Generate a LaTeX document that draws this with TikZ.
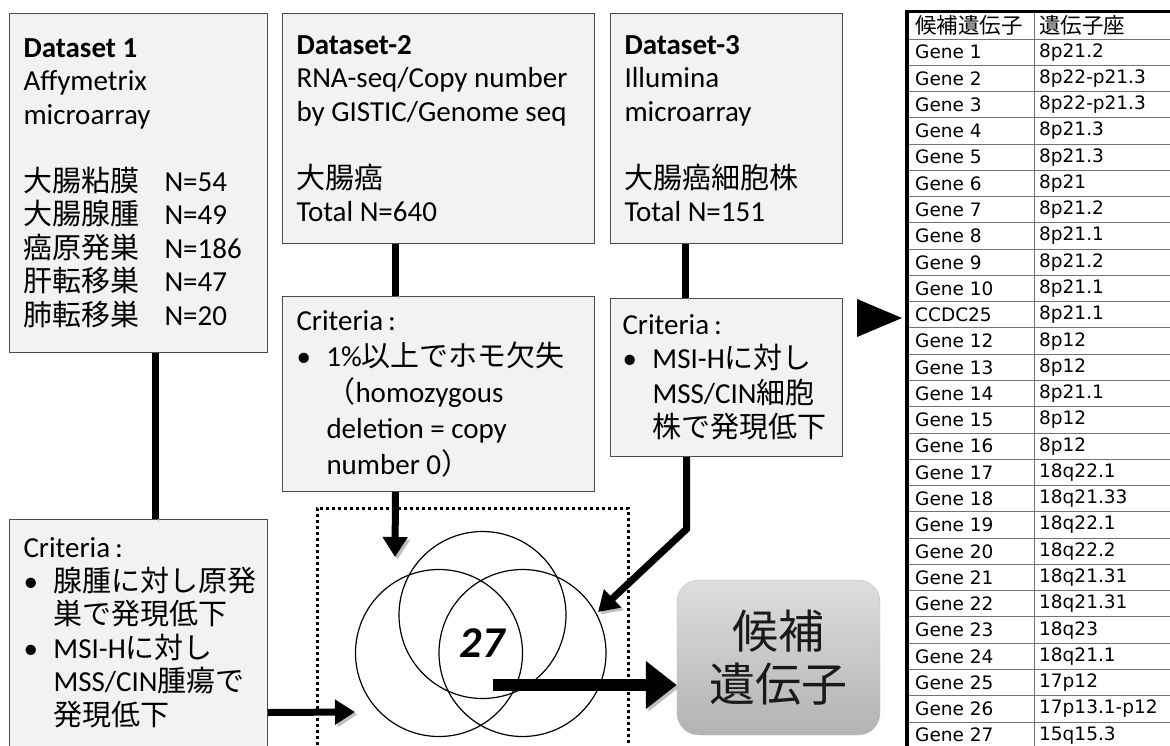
\documentclass[tikz,border=0pt]{standalone}
\usepackage{fontspec}
\setmainfont{Carlito}
\newfontfamily\jpfont{Noto Sans CJK JP}
\newfontfamily\cellfont{DejaVu Sans}
\usetikzlibrary{arrows.meta}
\newcommand\jp[1]{{\jpfont #1}}
\newcommand\bul{\makebox[30pt][l]{\textbullet}}
\newcommand\ind{\hspace*{30pt}}
\newcommand\kind[1]{\makebox[141pt][l]{\jp{#1}}}
\def\rowh{26.27}
\def\tabtop{39}

\begin{document}
\begin{tikzpicture}[x=1pt, y=-1pt,
    box/.style={draw=black!70, fill=black!5, line width=1pt, anchor=north west,
        align=left, inner xsep=14pt, inner ysep=0pt,
        font=\fontsize{29}{33.5}\selectfont,
        execute at begin node={\spaceskip=0pt\xspaceskip=0pt\relax}},
    shadowed/.style={preaction={draw=black!25, transform canvas={shift={(2.5pt,-2.5pt)}}}},
    link/.style={line width=7pt, shadowed},
    flow/.style={link, -{Triangle[length=20pt, width=24pt]}},
    bigflow/.style={line width=12pt, shadowed, -{Triangle[length=31pt, width=46pt]}},
    setring/.style={draw, circle, line width=1.2pt, minimum size=167pt, inner sep=0pt},
    cell/.style={anchor=west, inner sep=0pt, font=\cellfont\fontsize{18.5}{18.5}\selectfont},
    rule/.style={draw=black!55, line width=1pt}]
    \useasboundingbox (0,0) rectangle (1170,745);
    \clip (0,0) rectangle (1170,745);
    \fill[white] (0,0) rectangle (1170,745);

    \node[box, minimum width=258pt, minimum height=339pt, text width=230pt] (d1) at (9,13)
        {\textbf{Dataset 1}\\ Affymetrix\\ microarray\\[33.5pt]
         \kind{大腸粘膜}N=54\\ \kind{大腸腺腫}N=49\\ \kind{癌原発巣}N=186\\
         \kind{肝転移巣}N=47\\ \kind{肺転移巣}N=20};
    \node[box, minimum width=312pt, minimum height=230pt, text width=284pt] (d2) at (282,13)
        {\textbf{Dataset-2}\\ RNA-seq/Copy number\\ by GISTIC/Genome seq\\[33.5pt]
         \jp{大腸癌}\\ Total N=640};
    \node[box, minimum width=232pt, minimum height=230pt, text width=204pt] (d3) at (610,13)
        {\textbf{Dataset-3}\\ Illumina\\ microarray\\[33.5pt]
         \jp{大腸癌細胞株}\\ Total N=151};

    \node[box, minimum width=258pt, minimum height=227pt, text width=230pt] (c1) at (9,519)
        {Criteria\,:\\ \bul\jp{腺腫に対し原発}\\ \ind\jp{巣で発現低下}\\
         \bul MSI-H\jp{に対し}\\ \ind MSS/CIN\jp{腫瘍で}\\ \ind\jp{発現低下}};
    \node[box, minimum width=312pt, minimum height=195pt, text width=284pt,
        font=\fontsize{29}{36}\selectfont] (c2) at (282,296)
        {Criteria\,:\\ \bul 1\%\jp{以上でホモ欠失}\\ \ind\jp{（}homozygous\\
         \ind deletion = copy\\ \ind number 0\jp{）}};
    \node[box, minimum width=232pt, minimum height=158pt, text width=208pt,
        inner xsep=12pt, font=\fontsize{29}{34.5}\selectfont] (c3) at (610,298)
        {Criteria\,:\\ \bul MSI-H\jp{に対し}\\ \ind MSS/CIN\jp{細胞}\\ \ind\jp{株で発現低下}};

    \node[draw, line width=2.5pt, dash pattern=on 3pt off 3pt, anchor=north west,
        minimum width=311pt, minimum height=260pt] (venn) at (316,507) {};
    \node[setring] (setB) at (482.5,615) {};
    \node[setring] (setA) at (439,653) {};
    \node[setring] (setC) at (522.5,653) {};
    \node[font=\fontsize{44}{44}\selectfont\bfseries\itshape] (count) at (482,643) {27};

    \node[draw=black!25, rounded corners=22pt, top color=black!13, bottom color=black!30,
        minimum width=203pt, minimum height=155pt, align=center, text=black!90,
        font=\jpfont\fontsize{46}{53}\selectfont] (cand) at (778.5,657.5) {候補\\遺伝子};

    \coordinate (in1) at (355,712);
    \coordinate (in2) at (395,557);
    \coordinate (in3) at (598,612);
    \coordinate (out) at (493,685);

    \draw[link] ([xshift=17pt]d1.south) -- ([xshift=17pt]c1.north);
    \draw[flow] ([yshift=-79.5pt]c1.east) -- (in1);
    \draw[link] ([xshift=-43pt]d2.south) -- ([xshift=-43pt]c2.north);
    \draw[flow] ([xshift=-43pt]c2.south) -- (in2);
    \draw[link] ([xshift=-41pt]d3.south) -- ([xshift=-41pt]c3.north);
    \draw[flow] ([xshift=-40pt]c3.south) -- ++(0,72) -- (in3);
    \draw[bigflow] (out) -- (cand.west |- out);

    \fill (857,299) -- (902,318) -- (857,337) -- cycle;

    \node[cell, font=\jpfont\fontsize{21.5}{21.5}\selectfont] (h1) at (915,25) {候補遺伝子};
    \node[cell, font=\jpfont\fontsize{21.5}{21.5}\selectfont] (h2) at (1039,25) {遺伝子座};
    \foreach \gname/\locus [count=\i] in {Gene 1/8p21.2, Gene 2/8p22-p21.3, Gene 3/8p22-p21.3,
        Gene 4/8p21.3, Gene 5/8p21.3, Gene 6/8p21, Gene 7/8p21.2, Gene 8/8p21.1,
        Gene 9/8p21.2, Gene 10/8p21.1, CCDC25/8p21.1, Gene 12/8p12, Gene 13/8p12,
        Gene 14/8p21.1, Gene 15/8p12, Gene 16/8p12, Gene 17/18q22.1, Gene 18/18q21.33,
        Gene 19/18q22.1, Gene 20/18q22.2, Gene 21/18q21.31, Gene 22/18q21.31,
        Gene 23/18q23, Gene 24/18q21.1, Gene 25/17p12, Gene 26/17p13.1-p12,
        Gene 27/15q15.3} {
        \node[cell] (g\i) at (915, {\tabtop+\i*\rowh-\rowh/2}) {\gname};
        \node[cell] (l\i) at (1039, {\tabtop+\i*\rowh-\rowh/2}) {\locus};
        \draw[rule] (907, {\tabtop+\i*\rowh}) -- (1180, {\tabtop+\i*\rowh});
    }
    \draw[rule] (907,\tabtop) -- (1180,\tabtop);
    \draw[rule] (1034,11) -- (1034,760);
    \draw[line width=3pt] (907,11) -- (1180,11);
    \draw[line width=3.5pt] (907,9.5) -- (907,760);
\end{tikzpicture}
\end{document}
